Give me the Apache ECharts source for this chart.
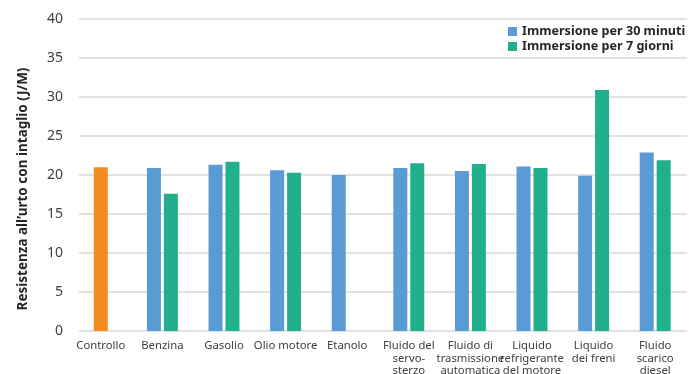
<!DOCTYPE html>
<html>
<head>
<meta charset="utf-8">
<script src="https://cdn.jsdelivr.net/npm/echarts@6/dist/echarts.min.js"></script>
<style>
  html, body { margin: 0; padding: 0; background: #fff; }
  #chart { width: 699px; height: 374px; }
</style>
</head>
<body>
<div id="chart"></div>
<script>
// Categories (fluids) and measured notched impact strength, J/M
const categories = [
  'Controllo', 'Benzina', 'Gasolio', 'Olio motore', 'Etanolo',
  'Fluido del\nservo-\nsterzo', 'Fluido di\ntrasmissione\nautomatica',
  'Liquido\nrefrigerante\ndel motore', 'Liquido\ndei freni', 'Fluido\nscarico\ndiesel'
];
const controllo = [21.0, null, null, null, null, null, null, null, null, null];
const immersione30min = [null, 20.9, 21.3, 20.6, 20.0, 20.9, 20.5, 21.1, 19.9, 22.9];
const immersione7giorni = [null, 17.6, 21.7, 20.3, null, 21.5, 21.4, 20.9, 30.9, 21.9];
const yTicks = { min: 0, max: 40, interval: 5 };

const seriesNames = ['Immersione per 30 minuti', 'Immersione per 7 giorni'];
const textColor = '#404040';
const fontFamily = '"Noto Sans", "Open Sans", sans-serif';

const chart = echarts.init(document.getElementById('chart'), null, { renderer: 'canvas' });

chart.setOption({
  animation: false,
  textStyle: { fontFamily: fontFamily },
  grid: [
    // value grid: gridlines and y labels
    { left: 79, right: 12, top: 19, bottom: 43, outerBoundsMode: 'none', containLabel: false },
    // category grid: the bars
    { left: 70, right: 13, top: 19, bottom: 43, outerBoundsMode: 'none', containLabel: false }
  ],
  legend: {
    data: seriesNames,
    orient: 'vertical',
    left: 508,
    top: 25,
    padding: 0,
    itemWidth: 9,
    itemHeight: 9,
    itemGap: 2,
    icon: 'rect',
    textStyle: { fontSize: 12.6, fontWeight: 'bold', color: '#262626', fontFamily: fontFamily }
  },
  graphic: [{
    type: 'text',
    x: 23,
    y: 189,
    rotation: Math.PI / 2,
    style: {
      text: 'Resistenza all\u2019urto con intaglio (J/M)',
      fontSize: 13.5,
      fontWeight: 'bold',
      fontFamily: fontFamily,
      fill: '#262626',
      textAlign: 'center',
      textVerticalAlign: 'middle'
    }
  }],
  xAxis: [
    {
      type: 'category',
      gridIndex: 1,
      data: categories,
      axisLine: { show: false },
      axisTick: { show: false },
      axisLabel: {
        interval: 0,
        margin: 9,
        fontSize: 11.3,
        lineHeight: 12.5,
        color: textColor,
        fontFamily: fontFamily,
        hideOverlap: false
      }
    },
    {
      type: 'category',
      gridIndex: 1,
      data: categories,
      show: false
    },
    {
      type: 'category',
      gridIndex: 0,
      data: categories,
      show: false
    }
  ],
  yAxis: [
    {
      type: 'value',
      gridIndex: 0,
      min: yTicks.min,
      max: yTicks.max,
      interval: yTicks.interval,
      axisLine: { show: false },
      axisTick: { show: false },
      axisLabel: { margin: 16, fontSize: 14, color: textColor, fontFamily: fontFamily },
      splitLine: { lineStyle: { color: '#d9d9d9', width: 1.5 } }
    },
    {
      type: 'value',
      gridIndex: 1,
      min: yTicks.min,
      max: yTicks.max,
      interval: yTicks.interval,
      show: false,
      splitLine: { show: false }
    }
  ],
  series: [
    {
      name: seriesNames[0],
      type: 'bar',
      xAxisIndex: 0,
      yAxisIndex: 1,
      data: immersione30min,
      barWidth: 14,
      barGap: '21%',
      itemStyle: { color: '#5b9bd5' }
    },
    {
      name: seriesNames[1],
      type: 'bar',
      xAxisIndex: 0,
      yAxisIndex: 1,
      data: immersione7giorni,
      barWidth: 14,
      barGap: '21%',
      itemStyle: { color: '#21af8d' }
    },
    {
      name: 'Controllo',
      type: 'bar',
      xAxisIndex: 1,
      yAxisIndex: 1,
      data: controllo,
      barWidth: 14,
      itemStyle: { color: '#f68b20' }
    }
  ]
});
</script>
</body>
</html>
